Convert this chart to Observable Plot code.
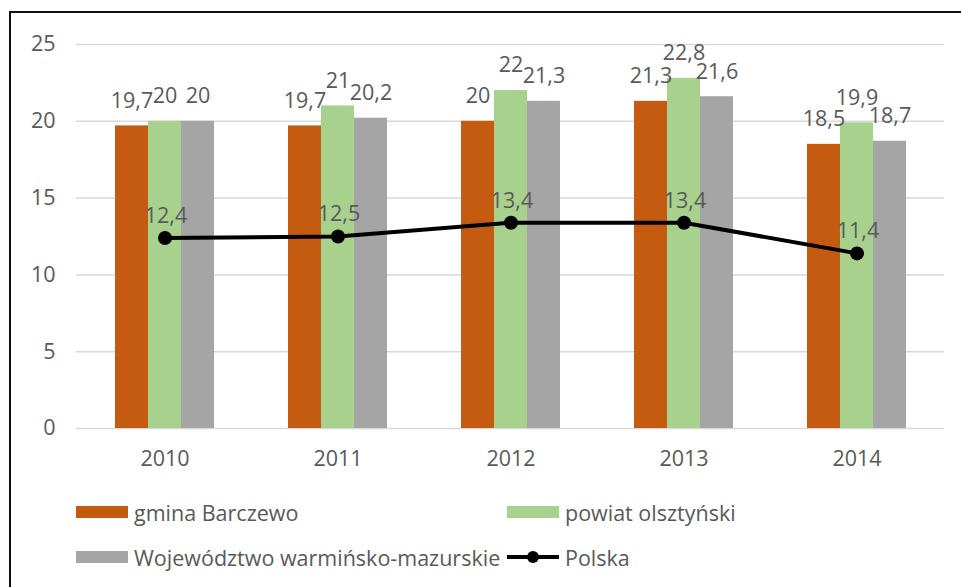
<!DOCTYPE html>
<html>
<head>
<meta charset="utf-8">
<script src="https://cdn.jsdelivr.net/npm/d3@7"></script>
<script src="https://cdn.jsdelivr.net/npm/@observablehq/plot@0.6"></script>
<style>
  html, body { margin: 0; padding: 0; background: #fff; }
  body { width: 961px; height: 587px; position: relative; overflow: hidden; font-family: "Open Sans", sans-serif; }
  #chart { position: absolute; left: 0; top: 0; }
  #frame { position: absolute; left: 9px; top: 11px; width: 970px; height: 600px; border-left: 2px solid #111; border-top: 2px solid #111; pointer-events: none; }
  .leg { position: absolute; display: flex; align-items: center; font-size: 21.5px; color: #595959; white-space: nowrap; }
  .leg svg { margin-right: 6px; }
</style>
</head>
<body>
<div id="chart"></div>
<div id="legend"></div>
<div id="frame"></div>
<script>
const years = ["2010", "2011", "2012", "2013", "2014"];
const gmina = [19.7, 19.7, 20, 21.3, 18.5];
const powiat = [20, 21, 22, 22.8, 19.9];
const wojewodztwo = [20, 20.2, 21.3, 21.6, 18.7];
const polska = [12.4, 12.5, 13.4, 13.4, 11.4];
const seriesNames = ["gmina Barczewo", "powiat olsztyński", "Województwo warmińsko-mazurskie", "Polska"];
const seriesColors = ["#C55A11", "#A9D18E", "#A5A5A5", "#000000"];
const yTicks = [0, 5, 10, 15, 20, 25];

const fmt = v => String(v).replace(".", ",");
const rows = arr => years.map((y, i) => ({year: y, value: arr[i]}));
const barSeries = [gmina, powiat, wojewodztwo];
const offsets = [-33, 0, 33];
const FS = 21.5;

const marks = [
  Plot.ruleY(yTicks, {stroke: "#D9D9D9", strokeWidth: 1.5})
];
barSeries.forEach((arr, k) => {
  marks.push(Plot.barY(rows(arr), {x: "year", y: "value", fill: seriesColors[k], dx: offsets[k]}));
});
barSeries.forEach((arr, k) => {
  marks.push(Plot.text(rows(arr), {x: "year", y: "value", text: d => fmt(d.value), dx: offsets[k], dy: -25,
    fill: "#595959", fontSize: FS, lineAnchor: "middle", textAnchor: "middle"}));
});
marks.push(Plot.line(rows(polska), {x: "year", y: "value", stroke: "#000", strokeWidth: 4}));
marks.push(Plot.dot(rows(polska), {x: "year", y: "value", fill: "#000", r: 7}));
marks.push(Plot.text(rows(polska), {x: "year", y: "value", text: d => fmt(d.value), dx: 1, dy: -22,
  fill: "#595959", fontSize: FS, lineAnchor: "middle", textAnchor: "middle"}));

const chart = Plot.plot({
  width: 961,
  height: 480,
  marginTop: 44,
  marginBottom: 52,
  marginLeft: 76,
  marginRight: 17,
  style: {background: "transparent", fontFamily: "Open Sans, sans-serif", fontSize: FS + "px", color: "#595959"},
  x: {domain: years, paddingInner: 0.81, paddingOuter: 0.405, tickSize: 0, tickPadding: 22, label: null},
  y: {domain: [0, 25], ticks: yTicks, tickSize: 0, tickPadding: 21, label: null},
  marks
});
document.getElementById("chart").appendChild(chart);

// legend
const legend = document.getElementById("legend");
const legPos = [[76, 512], [507, 512], [76, 557], [507, 557]];
seriesNames.forEach((name, i) => {
  const div = document.createElement("div");
  div.className = "leg";
  div.style.left = legPos[i][0] + "px";
  div.style.top = (legPos[i][1] - 15) + "px";
  div.style.height = "30px";
  let sw;
  if (i < 3) {
    sw = `<svg width="52" height="14"><rect x="0" y="1" width="52" height="12" fill="${seriesColors[i]}"/></svg>`;
  } else {
    sw = `<svg width="52" height="14"><line x1="0" x2="52" y1="7" y2="7" stroke="#000" stroke-width="4"/><circle cx="26" cy="7" r="6" fill="#000"/></svg>`;
  }
  div.innerHTML = sw + `<span>${name}</span>`;
  legend.appendChild(div);
});
</script>
</body>
</html>
